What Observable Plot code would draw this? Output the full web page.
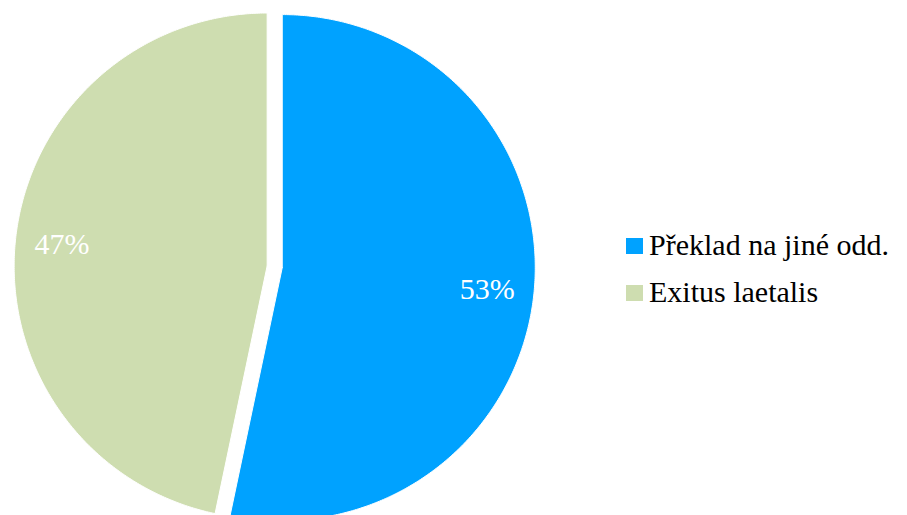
<!DOCTYPE html>
<html>
<head>
<meta charset="utf-8">
<script src="https://cdn.jsdelivr.net/npm/d3@7"></script>
<script src="https://cdn.jsdelivr.net/npm/@observablehq/plot@0.6"></script>
<style>
  html, body { margin: 0; padding: 0; background: #fff; }
  #wrap { position: relative; width: 907px; height: 515px; overflow: hidden; }
  .sw { position: absolute; left: 626px; width: 17px; height: 16px; }
  .lab { position: absolute; left: 649px; font-family: 'Liberation Serif', 'Times New Roman', Tinos, Times, serif;
         font-size: 30px; line-height: 30px; white-space: nowrap; color: #000; }
</style>
</head>
<body>
<div id="wrap"></div>
<script>
const categories = ["Překlad na jiné odd.", "Exitus laetalis"];
const shares = [53.3, 46.7];
const colors = ["#00A2FF", "#CEDDB0"];

const W = 907, H = 515;
const R = 253;                 // pie radius in px
const cx = 274.2, cy = 266.3;  // pie centre in px
const explode = 0.03;          // explosion offset (in radii)
const labelPos = 0.815;        // label distance (in radii)
const serif = "'Liberation Serif', 'Times New Roman', Tinos, Times, serif";
const fontSize = 30;

const arcs = d3.pie().sort(null).value(d => d)(shares);

const slicePts = [];
const labels = [];
arcs.forEach((a, i) => {
  const mid = (a.startAngle + a.endAngle) / 2;
  const ox = explode * Math.sin(mid), oy = explode * Math.cos(mid);
  slicePts.push({x: ox, y: oy, cat: categories[i]});
  const n = Math.max(2, Math.ceil((a.endAngle - a.startAngle) / (Math.PI / 360)));
  for (let j = 0; j <= n; j++) {
    const t = a.startAngle + (a.endAngle - a.startAngle) * j / n;
    slicePts.push({x: ox + Math.sin(t), y: oy + Math.cos(t), cat: categories[i]});
  }
  slicePts.push({x: ox, y: oy, cat: categories[i]});
  labels.push({x: ox + labelPos * Math.sin(mid), y: oy + labelPos * Math.cos(mid), text: Math.round(shares[i]) + "%"});
});

const chart = Plot.plot({
  width: W,
  height: H,
  margin: 0,
  x: {domain: [-cx / R, (W - cx) / R], range: [0, W], axis: null},
  y: {domain: [-(H - cy) / R, cy / R], range: [H, 0], axis: null},
  color: {domain: categories, range: colors},
  style: {background: "white", fontFamily: serif},
  marks: [
    Plot.line(slicePts, {x: "x", y: "y", z: "cat", fill: "cat", stroke: "white", strokeWidth: 1, curve: "linear"}),
    Plot.text(labels, {x: "x", y: "y", text: "text", fill: "white", fontSize: fontSize, fontFamily: serif})
  ]
});

const wrap = document.getElementById("wrap");
wrap.appendChild(chart);

const swTops = [238, 284.5];
const textTops = [230, 276.6];
categories.forEach((c, i) => {
  const sw = document.createElement("div");
  sw.className = "sw";
  sw.style.top = swTops[i] + "px";
  sw.style.background = colors[i];
  const lab = document.createElement("div");
  lab.className = "lab";
  lab.style.top = textTops[i] + "px";
  lab.textContent = c;
  wrap.appendChild(sw);
  wrap.appendChild(lab);
});
</script>
</body>
</html>
